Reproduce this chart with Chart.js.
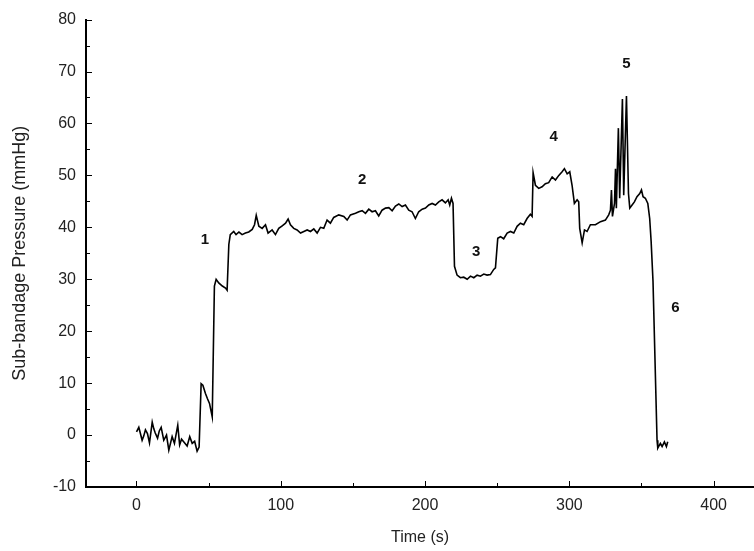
<!DOCTYPE html>
<html>
<head>
<meta charset="utf-8">
<script src="https://cdn.jsdelivr.net/npm/chart.js@4"></script>
<style>
  html, body { margin: 0; padding: 0; background: #fff; }
  #wrap { width: 754px; height: 551px; }
</style>
</head>
<body>
<div id="wrap"><canvas id="myChart" width="754" height="551"></canvas></div>
<script>
// time in seconds, pressure in mmHg
const tiempos = [
  0, 1.6, 2.8, 3.9, 5.0, 6.2, 7.6, 9.0, 10.9, 12.0, 13.0, 14.6, 15.8, 17.1, 18.9, 20.8, 22.4, 24.7,
  26.3, 28.6, 29.9, 31.2, 32.7, 35.1, 36.9, 38.6, 40.3, 42.0, 43.4,
  44.8, 46.0, 47.8, 49.2, 50.6, 52.5, 54.0, 55.2, 57.0, 59.5, 61.7, 62.8,
  64.0, 65.0, 67.4, 69.0, 71.0, 73.2, 75.5, 77.8, 80.2, 81.8, 83.0, 84.8, 87.1, 89.4, 91.2, 94.0,
  96.3, 98.6, 101.0, 103.3, 105.1, 106.7, 109.0, 111.3, 113.7, 116.0, 118.3, 120.6, 122.9, 125.2,
  127.5, 129.8, 132.1, 134.4, 136.7, 140.2, 143.7, 146.0, 148.3, 151.8, 154.1, 156.4, 158.7, 161.0,
  163.3, 165.6, 167.9, 170.2, 172.6, 174.9, 177.2, 179.5, 181.8, 184.1, 186.4, 188.7, 191.0, 193.3,
  195.6, 198.0, 200.3, 202.6, 204.9, 207.2, 209.5, 211.8, 214.1, 216.0, 217.1, 218.3, 219.4,
  220.4, 222.2, 224.5, 226.8, 229.2, 231.5, 233.8, 236.1, 238.4, 240.7, 243.0, 245.3, 247.6, 248.8,
  250.4, 252.3, 254.5, 256.9, 259.2, 261.5, 263.8, 266.1, 268.4, 270.7, 273.0, 274.2,
  274.9, 276.5, 278.8, 281.1, 283.4, 285.7, 288.1, 290.4, 292.7, 295.0, 296.6, 298.5, 300.3, 301.9,
  303.5, 305.4, 306.5, 307.2, 308.9, 310.5, 312.3, 314.6, 318.1, 321.6, 325.0, 327.3, 328.5,
  329.2, 329.9, 331.3, 332.0, 332.6, 334.0, 334.9, 336.8, 337.7, 339.6, 341.0, 341.9, 343.5, 345.1,
  346.9, 348.8, 350.0, 351.1, 352.7, 354.4, 355.7, 356.7, 358.0, 360.8, 361.3, 363.1, 364.3, 365.9,
  367.3, 368.2
]
const presion = [
  0.6, 1.5, 0.2, -1.0, -0.2, 1.0, 0.3, -1.5, 2.5, 1.2, 0.4, -0.6, 0.8, 1.5, -1.0, 0.0, -2.9, -0.3,
  -1.6, 1.9, -1.9, -0.8, -1.3, -2.1, -0.3, -1.6, -1.2, -3.1, -2.3,
  9.9, 9.6, 8.0, 7.0, 6.1, 3.5, 28.7, 30.0, 29.3, 28.7, 28.3, 27.9,
  36.7, 38.6, 39.2, 38.6, 39.1, 38.6, 38.9, 39.1, 39.6, 40.5, 42.3, 40.2, 39.8, 40.5, 38.9, 39.5,
  38.6, 39.8, 40.3, 40.8, 41.6, 40.5, 39.8, 39.5, 38.9, 39.2, 39.5, 39.2, 39.7, 38.9,
  40.0, 39.8, 41.4, 40.8, 41.9, 42.4, 42.1, 41.4, 42.4, 42.7, 43.0, 43.2, 42.7, 43.5,
  43.0, 43.2, 42.2, 43.3, 43.7, 43.8, 43.2, 44.1, 44.5, 44.0, 44.3, 43.3, 43.0, 41.7,
  43.0, 43.5, 43.7, 44.3, 44.6, 44.3, 44.9, 45.3, 44.7, 45.3, 44.3, 45.6, 44.6,
  32.5, 30.8, 30.3, 30.4, 30.0, 30.6, 30.3, 30.8, 30.6, 31.0, 30.8, 30.9, 31.9, 32.2,
  37.9, 38.2, 37.8, 38.9, 39.2, 38.9, 40.2, 40.8, 40.5, 41.7, 42.5, 42.1,
  50.5, 48.1, 47.5, 47.8, 48.4, 48.6, 49.7, 49.1, 50.0, 50.7, 51.3, 50.3, 50.7, 48.1,
  44.6, 45.3, 44.9, 39.8, 37.0, 39.5, 39.2, 40.5, 40.5, 41.1, 41.4, 42.4, 43.3,
  47.2, 42.1, 44.6, 51.3, 43.7, 59.1, 45.6, 64.7, 46.2, 65.3, 46.5, 43.7, 44.3, 44.9,
  45.9, 46.5, 47.2, 45.9, 45.6, 44.6, 41.7, 37.3, 29.6, -1.0, -2.5, -1.6, -2.2, -1.3,
  -2.2, -1.3
]

const xTicks = [0, 100, 200, 300, 400]
const yTicks = [-10, 0, 10, 20, 30, 40, 50, 60, 70, 80]

// phase numbers written on the plot
const etiquetas = ["1", "2", "3", "4", "5", "6"]
const etiquetasX = [47.4, 156.5, 235.4, 289.1, 339.6, 373.5]
const etiquetasY = [37.5, 49.1, 35.2, 57.4, 71.5, 24.5]

const fuente = "'Liberation Sans', Arial, sans-serif"

const puntos = tiempos.map((t, i) => ({ x: t, y: presion[i] }))

// inner tick marks + the numbers
const marcasPlugin = {
  id: "marcas",
  afterDraw(chart) {
    const ctx = chart.ctx
    const xs = chart.scales.x
    const ys = chart.scales.y
    const area = chart.chartArea
    ctx.save()
    ctx.strokeStyle = "#000"
    ctx.lineWidth = 1
    ctx.beginPath()
    for (let v = -10; v <= 80; v += 5) {
      const py = Math.round(ys.getPixelForValue(v)) + 0.5
      const len = v % 10 === 0 ? 6 : 4
      ctx.moveTo(area.left, py)
      ctx.lineTo(area.left + len, py)
    }
    for (let v = 0; v <= 400; v += 50) {
      const px = Math.round(xs.getPixelForValue(v)) + 0.5
      const len = v % 100 === 0 ? 6 : 4
      ctx.moveTo(px, area.bottom)
      ctx.lineTo(px, area.bottom - len)
    }
    ctx.stroke()

    ctx.fillStyle = "#111"
    ctx.font = "bold 15px " + fuente
    ctx.textAlign = "center"
    ctx.textBaseline = "middle"
    etiquetas.forEach((txt, i) => {
      ctx.fillText(txt, xs.getPixelForValue(etiquetasX[i]), ys.getPixelForValue(etiquetasY[i]))
    })
    ctx.restore()
  }
}

const config = {
  type: "line",
  data: {
    datasets: [
      {
        label: "Sub-bandage Pressure",
        data: puntos,
        borderColor: "#000",
        borderWidth: 1.6,
        pointRadius: 0,
        tension: 0,
        fill: false
      }
    ]
  },
  options: {
    responsive: false,
    animation: false,
    layout: { padding: { top: 17, right: 0, left: 0, bottom: 0 } },
    plugins: {
      legend: { display: false },
      tooltip: { enabled: false }
    },
    scales: {
      x: {
        type: "linear",
        min: -35,
        max: 428,
        afterBuildTicks: (scale) => { scale.ticks = xTicks.map((v) => ({ value: v })) },
        afterFit: (scale) => { scale.height = 64 },
        grid: { display: false, drawTicks: false },
        border: { display: true, color: "#000", width: 2 },
        ticks: { color: "#222", font: { family: fuente, size: 16 }, padding: 9, maxRotation: 0 },
        title: {
          display: true,
          text: "Time (s)",
          color: "#222",
          font: { family: fuente, size: 16 },
          padding: { top: 4, bottom: 4 }
        }
      },
      y: {
        min: -10,
        max: 80,
        afterBuildTicks: (scale) => { scale.ticks = yTicks.map((v) => ({ value: v })) },
        afterFit: (scale) => { scale.width = 86 },
        grid: { display: false, drawTicks: false },
        border: { display: true, color: "#000", width: 2 },
        ticks: { color: "#222", font: { family: fuente, size: 16 }, padding: 10 },
        title: {
          display: true,
          text: "Sub-bandage Pressure (mmHg)",
          color: "#222",
          font: { family: fuente, size: 18 },
          padding: { top: 9, bottom: 4 }
        }
      }
    }
  },
  plugins: [marcasPlugin]
}

new Chart(document.getElementById("myChart"), config)
</script>
</body>
</html>
